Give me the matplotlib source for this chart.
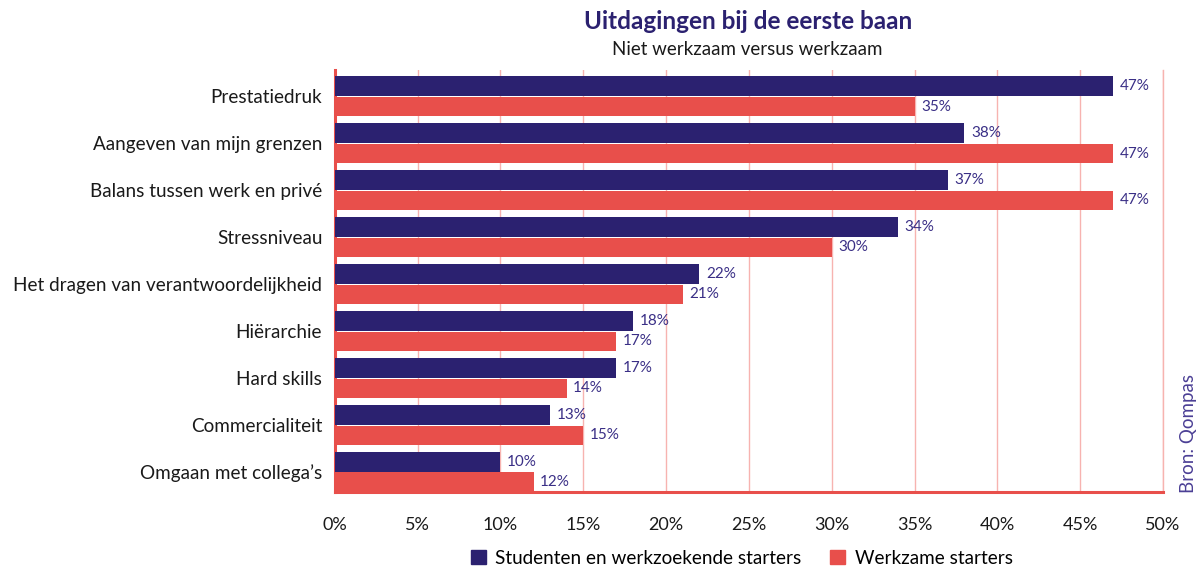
import matplotlib

matplotlib.use("Agg")
import matplotlib.pyplot as plt
import numpy as np
from matplotlib.patches import Patch

categories = [
    "Prestatiedruk",
    "Aangeven van mijn grenzen",
    "Balans tussen werk en privé",
    "Stressniveau",
    "Het dragen van verantwoordelijkheid",
    "Hiërarchie",
    "Hard skills",
    "Commercialiteit",
    "Omgaan met collega’s",
]
studenten = [47, 38, 37, 34, 22, 18, 17, 13, 10]
werkzaam = [35, 47, 47, 30, 21, 17, 14, 15, 12]
x_ticks = [0, 5, 10, 15, 20, 25, 30, 35, 40, 45, 50]

navy = "#2b2170"
red = "#e84f4b"
grid_red = "#f7b3b0"
label_color = "#3a2f86"

plt.rcParams["font.family"] = ["Lato", "DejaVu Sans"]

fig = plt.figure(figsize=(12.04, 5.73), dpi=100)
ax = fig.add_axes([0.278, 0.141, 0.688, 0.737])

y = np.arange(len(categories))
h = 0.42
off = 0.22
ax.barh(y - off, studenten, height=h, color=navy, zorder=3)
ax.barh(y + off, werkzaam, height=h, color=red, zorder=3)

for yi, v in zip(y - off, studenten):
    ax.text(v + 0.4, yi, f"{v}%", va="center", ha="left", fontsize=11, color=label_color)
for yi, v in zip(y + off, werkzaam):
    ax.text(v + 0.4, yi, f"{v}%", va="center", ha="left", fontsize=11, color=label_color)

ax.set_xlim(0, 50)
ax.set_ylim(8.43, -0.56)
ax.set_yticks(y)
ax.set_yticklabels(categories, fontsize=13.6, color="#1a1a1a")
ax.set_xticks(x_ticks)
ax.set_xticklabels([f"{t}%" for t in x_ticks], fontsize=13, color="#1a1a1a")
ax.tick_params(axis="both", length=0)
ax.tick_params(axis="y", pad=9)
ax.tick_params(axis="x", pad=18)

ax.grid(axis="x", color=grid_red, linewidth=1, zorder=1)
ax.spines["top"].set_visible(False)
ax.spines["right"].set_color(grid_red)
ax.spines["right"].set_linewidth(1)
ax.spines["left"].set_color(red)
ax.spines["left"].set_linewidth(2.2)
ax.spines["bottom"].set_color(red)
ax.spines["bottom"].set_linewidth(2.2)

fig.text(0.621, 0.963, "Uitdagingen bij de eerste baan", ha="center", va="center",
         fontsize=17.5, fontweight="bold", color=navy)
fig.text(0.621, 0.913, "Niet werkzaam versus werkzaam", ha="center", va="center",
         fontsize=13.5, color="#1a1a1a")
fig.text(0.987, 0.244, "Bron: Qompas", rotation=90, ha="center", va="center",
         fontsize=13.5, color="#4b3f95")

handles = [Patch(color=navy), Patch(color=red)]
fig.legend(handles, ["Studenten en werkzoekende starters", "Werkzame starters"],
           loc="center", bbox_to_anchor=(0.616, 0.026), ncol=2, frameon=False,
           fontsize=13.6, handlelength=0.8, handleheight=0.8, columnspacing=1.5,
           handletextpad=0.5)

fig.savefig("out.png", dpi=100)
